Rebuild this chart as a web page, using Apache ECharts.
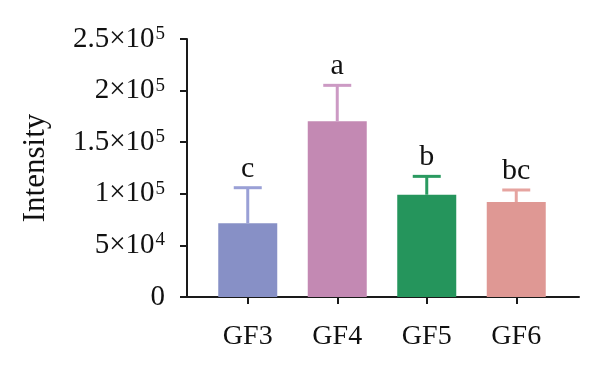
<!DOCTYPE html>
<html>
<head>
<meta charset="utf-8">
<script src="https://cdn.jsdelivr.net/npm/echarts@6/dist/echarts.min.js"></script>
<style>html,body{margin:0;padding:0;background:#fff;}#c{width:600px;height:368px;}</style>
</head>
<body>
<div id="c"></div>
<script>
var categories = ['GF3', 'GF4', 'GF5', 'GF6'];
var means = [71400, 170200, 99100, 92000];
var errors = [34500, 34900, 17800, 11700];
var sigLetters = ['c', 'a', 'b', 'bc'];
var yTicks = [0, 50000, 100000, 150000, 200000, 250000];
var yTickLabels = ['0', '5×10{s|4}', '1×10{s|5}', '1.5×10{s|5}', '2×10{s|5}', '2.5×10{s|5}'];
var barColors = ['#8790c6', '#c389b3', '#25955c', '#df9894'];
var errColors = ['#9aa0d6', '#cc9ac4', '#2a9a60', '#e6a4a0'];

var FONT = '"Liberation Serif", "DejaVu Serif", serif';
var chart = echarts.init(document.getElementById('c'), null, {renderer: 'canvas'});

var option = {
  animation: false,
  backgroundColor: '#fff',
  grid: [
    {left: 203, right: 39, top: 39, height: 258},
    {left: 187, right: 21, top: 39, height: 258}
  ],
  xAxis: [
    {
      type: 'category', gridIndex: 0, data: categories,
      axisLine: {show: false},
      axisTick: {show: true, alignWithLabel: true, length: 7, lineStyle: {color: '#1a1a1a', width: 2}},
      axisLabel: {fontFamily: FONT, fontSize: 28, color: '#111', margin: 26}
    },
    {
      type: 'value', gridIndex: 1, min: 0, max: 1,
      axisLine: {show: true, lineStyle: {color: '#1a1a1a', width: 2}},
      axisTick: {show: false}, axisLabel: {show: false}, splitLine: {show: false}
    }
  ],
  yAxis: [
    {
      type: 'value', gridIndex: 0, min: 0, max: 250000, interval: 50000,
      show: false, splitLine: {show: false}
    },
    {
      type: 'value', gridIndex: 1, min: 0, max: 250000, interval: 50000,
      name: 'Intensity', nameLocation: 'middle', nameGap: 136,
      nameTextStyle: {fontFamily: FONT, fontSize: 31, color: '#111'},
      axisLine: {show: true, lineStyle: {color: '#1a1a1a', width: 2}},
      axisTick: {show: true, length: 7, lineStyle: {color: '#1a1a1a', width: 2}},
      splitLine: {show: false},
      axisLabel: {
        margin: 22, fontFamily: FONT, fontSize: 29, color: '#111',
        formatter: function (v) {
          var i = yTicks.indexOf(v);
          return i >= 0 ? yTickLabels[i] : '';
        },
        rich: {
          s: {fontFamily: FONT, fontSize: 19, color: '#111', verticalAlign: 'top', lineHeight: 19, padding: [0, 0, 11, 1]}
        }
      }
    }
  ],
  series: [
    {
      type: 'bar', xAxisIndex: 0, yAxisIndex: 0, barWidth: 59,
      data: means.map(function (m, i) { return {value: m, itemStyle: {color: barColors[i]}}; }),
      z: 2
    },
    {
      type: 'custom', xAxisIndex: 0, yAxisIndex: 0, z: 3,
      data: means.map(function (m, i) { return [i, m, errors[i]]; }),
      renderItem: function (params, api) {
        var idx = params.dataIndex;
        var c = api.value(0), m = api.value(1), e = api.value(2);
        var base = api.coord([c, m]);
        var top = api.coord([c, m + e]);
        var half = 14;
        var col = errColors[idx];
        return {
          type: 'group',
          children: [
            {type: 'line', shape: {x1: base[0], y1: base[1], x2: top[0], y2: top[1]}, style: {stroke: col, lineWidth: 3}},
            {type: 'line', shape: {x1: top[0] - half, y1: top[1], x2: top[0] + half, y2: top[1]}, style: {stroke: col, lineWidth: 3}},
            {type: 'text', x: top[0], y: top[1] - 4,
              style: {text: sigLetters[idx], fontFamily: FONT, fontSize: 30, fill: '#111', align: 'center', verticalAlign: 'bottom'}}
          ]
        };
      }
    }
  ]
};
chart.setOption(option);
</script>
</body>
</html>
